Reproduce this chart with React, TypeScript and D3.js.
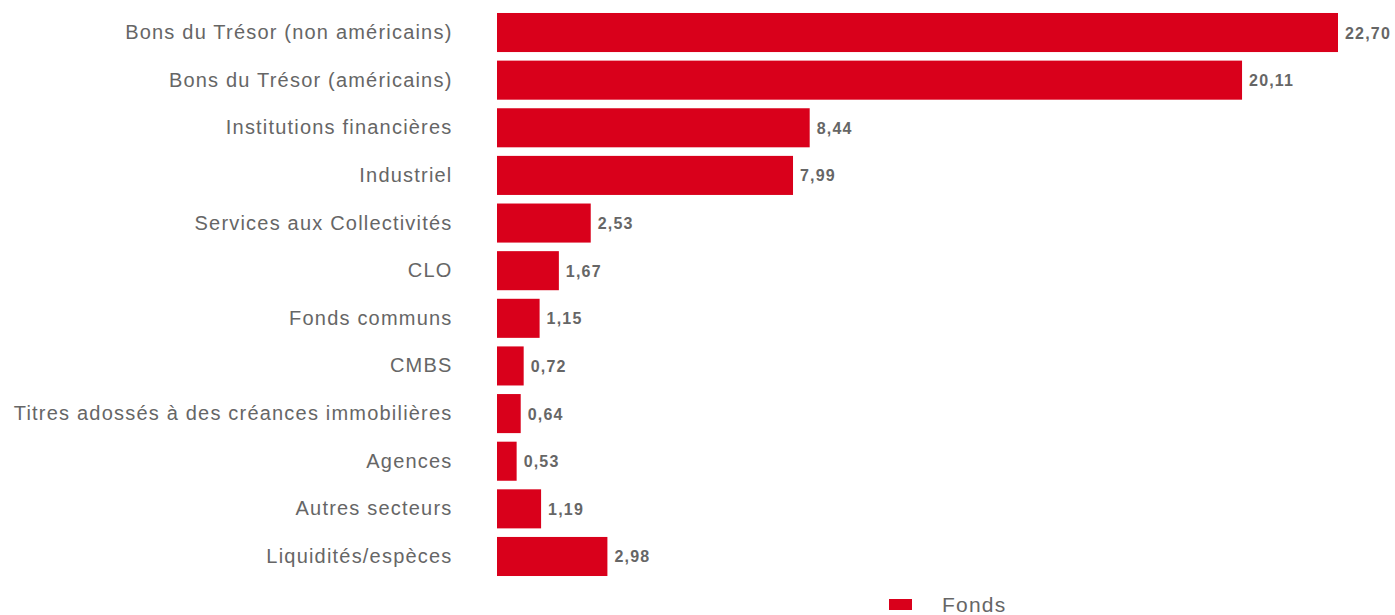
import { useRef, useEffect } from 'react'
import * as d3 from 'd3';

const categories = [
    "Bons du Trésor (non américains)",
    "Bons du Trésor (américains)",
    "Institutions financières",
    "Industriel",
    "Services aux Collectivités",
    "CLO",
    "Fonds communs",
    "CMBS",
    "Titres adossés à des créances immobilières",
    "Agences",
    "Autres secteurs",
    "Liquidités/espèces",
];

const fondsValues = [22.70, 20.11, 8.44, 7.99, 2.53, 1.67, 1.15, 0.72, 0.64, 0.53, 1.19, 2.98];

const seriesName = "Fonds";

function App() {

    const d3Container = useRef(null);

    const width = 1395;
    const height = 615;

    useEffect(() => {
        const red = "#d9001b";
        const grey = "#666666";
        const font = "'Liberation Sans', Arial, sans-serif";

        const svg = d3.select(d3Container.current);
        svg.selectAll("*").remove();

        const x = d3.scaleLinear()
                    .domain([0, 22.70])
                    .range([497, 1338]);

        const y = d3.scaleBand()
                    .domain(categories)
                    .range([8.7, 580.3])
                    .paddingInner(0.18)
                    .paddingOuter(0.09);

        // bars
        svg.append("g")
           .attr("fill", red)
           .selectAll()
           .data(fondsValues)
           .join("rect")
           .attr("x", x(0))
           .attr("y", (d, i) => y(categories[i]))
           .attr("width", (d) => x(d) - x(0))
           .attr("height", y.bandwidth());

        // value labels
        svg.append("g")
           .selectAll()
           .data(fondsValues)
           .join("text")
           .attr("x", (d) => x(d) + 7)
           .attr("y", (d, i) => y(categories[i]) + y.bandwidth() / 2 + 6)
           .attr("fill", grey)
           .attr("font-family", font)
           .attr("font-size", 16)
           .attr("font-weight", "bold")
           .attr("letter-spacing", 1.2)
           .text((d) => d3.format(".2f")(d).replace(".", ","));

        // category labels
        svg.append("g")
           .selectAll()
           .data(categories)
           .join("text")
           .attr("x", 452.5)
           .attr("y", (d) => y(d) + y.bandwidth() / 2 + 6.5)
           .attr("text-anchor", "end")
           .attr("fill", grey)
           .attr("font-family", font)
           .attr("font-size", 20)
           .attr("letter-spacing", 1.2)
           .text((d) => d);

        // legend
        const legend = svg.append("g");
        legend.append("rect")
              .attr("x", 889)
              .attr("y", 599)
              .attr("width", 23)
              .attr("height", 11)
              .attr("fill", red);
        legend.append("text")
              .attr("x", 942)
              .attr("y", 612)
              .attr("fill", grey)
              .attr("font-family", font)
              .attr("font-size", 21)
              .attr("letter-spacing", 1.2)
              .text(seriesName);
    }, []);

    return (
        <svg width={width}
             height={height}
             style={{ position: "absolute", left: 0, top: 0 }}
             ref={d3Container} />
    )
}

export default App;
